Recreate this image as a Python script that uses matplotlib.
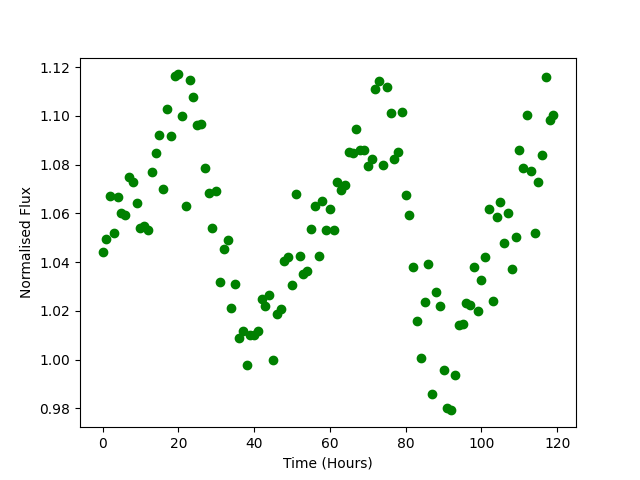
import matplotlib
matplotlib.use('Agg')
import matplotlib.pyplot as plt
import numpy as np

# Observation times (hours)
time = np.arange(0, 120)

# Normalised flux readings
flux = [
	1.0440, 1.0496, 1.0670, 1.0520, 1.0667, 1.0600, 1.0595, 1.0750, 1.0727, 1.0644,
	1.0540, 1.0550, 1.0530, 1.0770, 1.0846, 1.0920, 1.0700, 1.1030, 1.0916, 1.1163,
	1.1170, 1.1000, 1.0630, 1.1146, 1.1076, 1.0962, 1.0966, 1.0785, 1.0685, 1.0541,
	1.0690, 1.0320, 1.0455, 1.0490, 1.0210, 1.0310, 1.0090, 1.0117, 0.9977, 1.0100,
	1.0100, 1.0117, 1.0250, 1.0220, 1.0265, 1.0000, 1.0187, 1.0208, 1.0405, 1.0420,
	1.0306, 1.0680, 1.0426, 1.0350, 1.0364, 1.0537, 1.0630, 1.0426, 1.0650, 1.0530,
	1.0620, 1.0530, 1.0727, 1.0694, 1.0718, 1.0850, 1.0846, 1.0945, 1.0862, 1.0858,
	1.0793, 1.0825, 1.1110, 1.1142, 1.0800, 1.1118, 1.1010, 1.0821, 1.0850, 1.1015,
	1.0677, 1.0595, 1.0380, 1.0158, 1.0006, 1.0236, 1.0393, 0.9860, 1.0278, 1.0220,
	0.9956, 0.9800, 0.9792, 0.9936, 1.0142, 1.0146, 1.0232, 1.0224, 1.0380, 1.0200,
	1.0327, 1.0420, 1.0620, 1.0241, 1.0586, 1.0648, 1.0480, 1.0600, 1.0372, 1.0504,
	1.0858, 1.0788, 1.1002, 1.0772, 1.0520, 1.0727, 1.0838, 1.1159, 1.0982, 1.1002,
]

plt.figure(figsize=(6.4, 4.8), dpi=100)
plt.plot(time, flux, 'o', color='green')				# Plot flux points
plt.xlabel('Time (Hours)')
plt.ylabel('Normalised Flux')
plt.savefig('out.png')
